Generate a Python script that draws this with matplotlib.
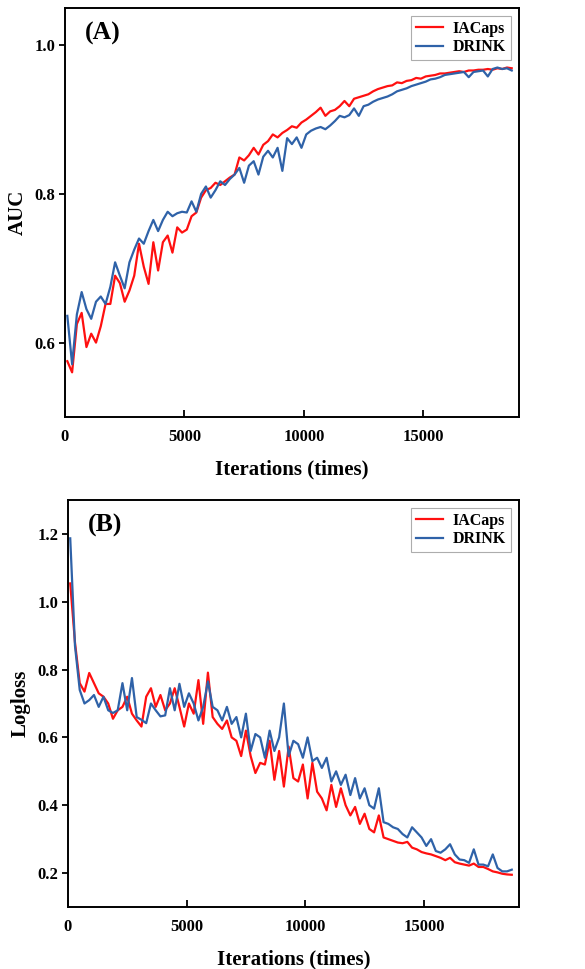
import numpy as np
import matplotlib
matplotlib.use("Agg")
import matplotlib.pyplot as plt

# ---------------- data ----------------
iter_start = 100
iter_step = 200

auc_iacaps = [0.575, 0.560, 0.625, 0.640, 0.594, 0.612, 0.600, 0.622, 0.652, 0.652,
              0.690, 0.680, 0.655, 0.670, 0.690, 0.733, 0.702, 0.679, 0.735, 0.697,
              0.735, 0.744, 0.721, 0.755, 0.748, 0.752, 0.770, 0.775, 0.795, 0.805,
              0.808, 0.815, 0.812, 0.817, 0.822, 0.826, 0.849, 0.845, 0.852, 0.862,
              0.853, 0.866, 0.871, 0.880, 0.876, 0.882, 0.886, 0.891, 0.889, 0.896,
              0.900, 0.905, 0.910, 0.916, 0.905, 0.911, 0.913, 0.918, 0.925, 0.918,
              0.928, 0.930, 0.932, 0.934, 0.938, 0.941, 0.943, 0.945, 0.946, 0.950,
              0.949, 0.952, 0.953, 0.956, 0.955, 0.958, 0.959, 0.960, 0.962, 0.962,
              0.963, 0.964, 0.965, 0.964, 0.966, 0.966, 0.967, 0.967, 0.968, 0.967,
              0.969, 0.968, 0.970, 0.969]

auc_drink = [0.636, 0.571, 0.638, 0.668, 0.645, 0.632, 0.655, 0.662, 0.652, 0.675,
             0.708, 0.690, 0.673, 0.708, 0.725, 0.740, 0.733, 0.750, 0.765, 0.750,
             0.765, 0.776, 0.770, 0.774, 0.776, 0.775, 0.790, 0.776, 0.800, 0.810,
             0.795, 0.805, 0.817, 0.812, 0.820, 0.826, 0.835, 0.815, 0.838, 0.844,
             0.826, 0.850, 0.858, 0.849, 0.862, 0.831, 0.875, 0.867, 0.876, 0.862,
             0.880, 0.885, 0.888, 0.890, 0.887, 0.892, 0.898, 0.905, 0.903, 0.906,
             0.915, 0.905, 0.918, 0.920, 0.924, 0.927, 0.929, 0.931, 0.934, 0.938,
             0.940, 0.942, 0.945, 0.947, 0.949, 0.951, 0.954, 0.955, 0.957, 0.960,
             0.961, 0.962, 0.963, 0.964, 0.957, 0.964, 0.965, 0.966, 0.958, 0.968,
             0.970, 0.968, 0.969, 0.966]

loss_iacaps = [1.054, 0.880, 0.760, 0.735, 0.790, 0.760, 0.730, 0.720, 0.700, 0.655,
               0.680, 0.690, 0.720, 0.670, 0.650, 0.632, 0.720, 0.745, 0.690, 0.725,
               0.680, 0.700, 0.745, 0.690, 0.632, 0.700, 0.670, 0.769, 0.640, 0.791,
               0.660, 0.640, 0.625, 0.650, 0.600, 0.590, 0.545, 0.620, 0.545, 0.495,
               0.525, 0.520, 0.590, 0.475, 0.560, 0.455, 0.573, 0.480, 0.470, 0.520,
               0.420, 0.525, 0.440, 0.420, 0.385, 0.460, 0.395, 0.450, 0.400, 0.370,
               0.395, 0.345, 0.375, 0.330, 0.320, 0.370, 0.305, 0.300, 0.295, 0.290,
               0.288, 0.292, 0.275, 0.270, 0.262, 0.258, 0.255, 0.250, 0.245, 0.238,
               0.245, 0.232, 0.228, 0.225, 0.222, 0.228, 0.218, 0.218, 0.212, 0.205,
               0.202, 0.198, 0.196, 0.195]

loss_drink = [1.187, 0.870, 0.740, 0.700, 0.710, 0.725, 0.690, 0.720, 0.680, 0.672,
              0.680, 0.760, 0.680, 0.775, 0.660, 0.652, 0.642, 0.700, 0.680, 0.662,
              0.665, 0.745, 0.680, 0.758, 0.690, 0.730, 0.700, 0.650, 0.690, 0.765,
              0.690, 0.680, 0.650, 0.690, 0.640, 0.660, 0.600, 0.670, 0.560, 0.610,
              0.600, 0.540, 0.620, 0.560, 0.600, 0.700, 0.545, 0.590, 0.580, 0.540,
              0.600, 0.530, 0.540, 0.510, 0.540, 0.470, 0.500, 0.460, 0.490, 0.430,
              0.480, 0.420, 0.450, 0.400, 0.390, 0.450, 0.350, 0.345, 0.335, 0.330,
              0.315, 0.305, 0.335, 0.320, 0.305, 0.280, 0.300, 0.265, 0.260, 0.270,
              0.285, 0.255, 0.240, 0.238, 0.230, 0.270, 0.225, 0.225, 0.220, 0.255,
              0.215, 0.205, 0.205, 0.210]

series_names = ["IACaps", "DRINK"]
x_ticks = [0, 5000, 10000, 15000]
auc_ticks = [0.6, 0.8, 1.0]
loss_ticks = [0.2, 0.4, 0.6, 0.8, 1.0, 1.2]


def iters(vals):
    return iter_start + iter_step * np.arange(len(vals))


# ---------------- style ----------------
plt.rcParams['font.family'] = ['Liberation Serif', 'DejaVu Serif']
plt.rcParams['font.weight'] = 'bold'
RED = '#ff1010'
BLUE = '#2f62a8'

fig = plt.figure(figsize=(5.85, 9.69), dpi=100)
ax1 = fig.add_axes([0.111, 0.5697, 0.776, 0.4220])
ax2 = fig.add_axes([0.116, 0.0640, 0.771, 0.4200])


def style(ax, yticks, ylim, ylabel, tag):
    ax.set_xlim(0, 19000)
    ax.set_ylim(*ylim)
    ax.set_xticks(x_ticks)
    ax.set_yticks(yticks)
    ax.set_yticklabels([f"{t:.1f}" for t in yticks])
    ax.tick_params(axis='x', direction='in', length=5, width=1.3, labelsize=12, pad=9)
    ax.tick_params(axis='y', direction='out', length=4, width=1.3, labelsize=12, pad=3)
    for lab in ax.get_xticklabels() + ax.get_yticklabels():
        lab.set_fontweight('bold')
    for sp in ax.spines.values():
        sp.set_linewidth(1.4)
    ax.set_xlabel("Iterations (times)", fontsize=15, fontweight='bold', labelpad=10)
    ax.set_ylabel(ylabel, fontsize=15, fontweight='bold', labelpad=5)
    ax.text(0.044, 0.937, tag, transform=ax.transAxes, fontsize=18.5,
            fontweight='bold', ha='left', va='center')
    leg = ax.legend(loc='upper right', fontsize=11.5, handlelength=1.7,
                    fancybox=False, frameon=True, borderaxespad=0.5,
                    borderpad=0.3, labelspacing=0.15, handletextpad=0.6)
    leg.get_frame().set_edgecolor('#999999')
    leg.get_frame().set_linewidth(0.8)
    for t in leg.get_texts():
        t.set_fontweight('bold')


ax1.plot(iters(auc_iacaps), auc_iacaps, color=RED, lw=1.6, label=series_names[0])
ax1.plot(iters(auc_drink), auc_drink, color=BLUE, lw=1.6, label=series_names[1])
style(ax1, auc_ticks, (0.5, 1.05), "AUC", "(A)")

ax2.plot(iters(loss_iacaps), loss_iacaps, color=RED, lw=1.6, label=series_names[0])
ax2.plot(iters(loss_drink), loss_drink, color=BLUE, lw=1.6, label=series_names[1])
style(ax2, loss_ticks, (0.1, 1.3), "Logloss", "(B)")

fig.savefig("out.png", dpi=100, facecolor='white')
